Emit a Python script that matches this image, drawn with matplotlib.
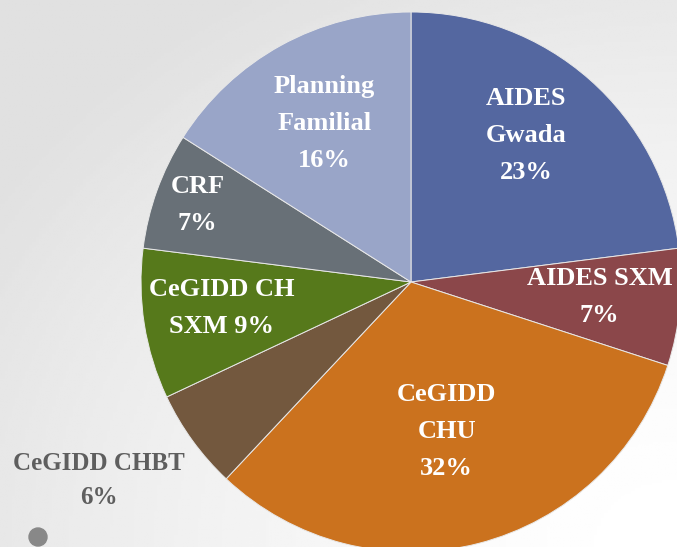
import matplotlib
matplotlib.use("Agg")
import matplotlib.pyplot as plt
from matplotlib.patches import Circle
import numpy as np

# data
names = ["AIDES\nGwada", "AIDES SXM", "CeGIDD\nCHU", "CeGIDD CHBT",
         "CeGIDD CH\nSXM", "CRF", "Planning\nFamilial"]
shares = [23, 7, 32, 6, 9, 7, 16]
sep = ["\n", "\n", "\n", "\n", " ", "\n", "\n"]

colors = ["#5467a0", "#8b474a", "#cb721e", "#73583e", "#56791b", "#687077", "#99a5c8"]
label_dist = [0.69, 0.70, 0.57, 1.37, 0.707, 0.84, 0.67]
label_turn = [3.1, 0.8, -1.0, -3.5, -1.2, 0.0, -0.2]  # degrees off the wedge middle
label_color = ["white", "white", "white", "#5e5e5e", "white", "white", "white"]
label_size = [19, 19, 19, 18, 19, 19, 19]
label_spacing = [1.78, 1.78, 1.78, 1.6, 1.78, 1.78, 1.78]

W, H = 677, 547
cx, cy, R = 411, 265, 270  # pie centre (from bottom) and radius in px

fig = plt.figure(figsize=(W / 100, H / 100), dpi=100)

# soft grey background gradient
bg = fig.add_axes([0, 0, 1, 1])
yy, xx = np.mgrid[0:1:200j, 0:1:200j]
t = np.clip(np.hypot(1 - xx, 1 - yy) / 1.2, 0, 1)
shade = 1.0 - 0.12 * t ** 1.5
bg.imshow(shade, cmap="gray", vmin=0, vmax=1, extent=[0, 1, 0, 1],
          origin="upper", aspect="auto")
bg.set_xlim(0, 1)
bg.set_ylim(0, 1)
bg.axis("off")

ax = fig.add_axes([0, 0, 1, 1])
ax.patch.set_alpha(0)
wedges, _ = ax.pie(shares, colors=colors, startangle=90, counterclock=False,
                   radius=1.0, wedgeprops=dict(edgecolor="#e8e8e8", linewidth=0.7))
ax.set_aspect("auto")
ax.set_xlim(-cx / R, (W - cx) / R)
ax.set_ylim(-cy / R, (H - cy) / R)
ax.axis("off")

# small grey bullet in the lower-left corner
ax.add_patch(Circle(((38 - cx) / R, (10 - cy) / R), 9 / R, color="#888888"))

for i, w in enumerate(wedges):
    ang = np.deg2rad((w.theta1 + w.theta2) / 2 + label_turn[i])
    d = label_dist[i]
    ax.text(d * np.cos(ang), d * np.sin(ang), f"{names[i]}{sep[i]}{shares[i]}%",
            ha="center", va="center", color=label_color[i], fontsize=label_size[i],
            fontweight="bold", family="Liberation Serif",
            linespacing=label_spacing[i])

fig.savefig("out.png", dpi=100)
